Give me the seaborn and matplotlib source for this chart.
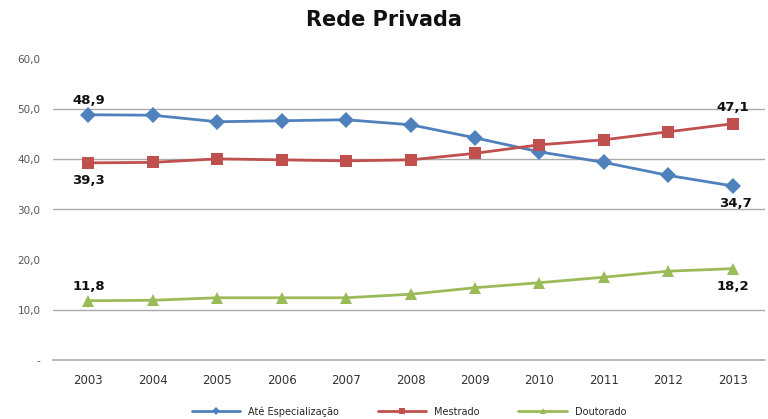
import matplotlib
matplotlib.use('Agg')
import matplotlib.pyplot as plt
import pandas as pd
import seaborn as sns

sns.set_style('white')
plt.rcParams['font.family'] = ['DejaVu Sans']

anos = [2003, 2004, 2005, 2006, 2007, 2008, 2009, 2010, 2011, 2012, 2013]
especializacao = [48.9, 48.8, 47.5, 47.7, 47.9, 46.9, 44.3, 41.5, 39.4, 36.8, 34.7]
mestrado = [39.3, 39.4, 40.1, 39.9, 39.7, 39.9, 41.2, 42.9, 43.9, 45.5, 47.1]
doutorado = [11.8, 11.9, 12.4, 12.4, 12.4, 13.1, 14.4, 15.4, 16.5, 17.7, 18.2]
series = ['Até Especialização', 'Mestrado', 'Doutorado']
cores = ['#4F81BD', '#C0504D', '#9BBB59']

df = pd.DataFrame({
    'ano': anos * 3,
    'valor': especializacao + mestrado + doutorado,
    'serie': [s for s in series for _ in anos],
})

fig = plt.figure(figsize=(7.68, 4.19), dpi=100)
ax = fig.add_axes([0.069, 0.141, 0.927, 0.718])

sns.lineplot(data=df, x='ano', y='valor', hue='serie', style='serie',
             markers=['D', 's', '^'], dashes=False, palette=cores,
             linewidth=2.0, markersize=8, markeredgewidth=0, ax=ax)

ax.set_xlim(2002.45, 2013.5)
ax.set_ylim(0, 60)
ax.set_xticks(anos)
ax.set_xticklabels([str(a) for a in anos], fontsize=8.5, color='#333333')
ax.set_yticks(range(0, 70, 10))
ax.set_yticklabels(['-'] + ['%d,0' % v for v in range(10, 70, 10)],
                   fontsize=7.5, color='#555555')
ax.tick_params(axis='y', pad=9, length=0)
ax.tick_params(axis='x', pad=10, length=0)
ax.set_xlabel('')
ax.set_ylabel('')
for s in ['top', 'right', 'left']:
    ax.spines[s].set_visible(False)
ax.spines['bottom'].set_color('#AAAAAA')
ax.spines['bottom'].set_linewidth(1.2)
for v in [10, 30, 40, 50]:
    ax.axhline(v, color='#AAAAAA', linewidth=1, zorder=0)

# rótulos de dados (primeiro e último ano)
rot = dict(fontsize=9.5, fontweight='bold', ha='center', color='#111111')
ax.text(anos[0], especializacao[0] + 1.6, '48,9', va='bottom', **rot)
ax.text(anos[0], mestrado[0] - 2.2, '39,3', va='top', **rot)
ax.text(anos[0], doutorado[0] + 1.6, '11,8', va='bottom', **rot)
ax.text(anos[-1], mestrado[-1] + 2.0, '47,1', va='bottom', **rot)
ax.text(anos[-1] + 0.05, especializacao[-1] - 2.2, '34,7', va='top', **rot)
ax.text(anos[-1], doutorado[-1] - 2.2, '18,2', va='top', **rot)

fig.suptitle('Rede Privada', fontsize=15, fontweight='bold', y=0.975,
             color='#111111')

handles, labels = ax.get_legend_handles_labels()
ax.legend(handles, labels, loc='upper center', bbox_to_anchor=(0.5, -0.125),
          ncol=3, frameon=False, fontsize=7, handlelength=5,
          columnspacing=4, markerscale=0.5)

fig.savefig('out.png', dpi=100)
